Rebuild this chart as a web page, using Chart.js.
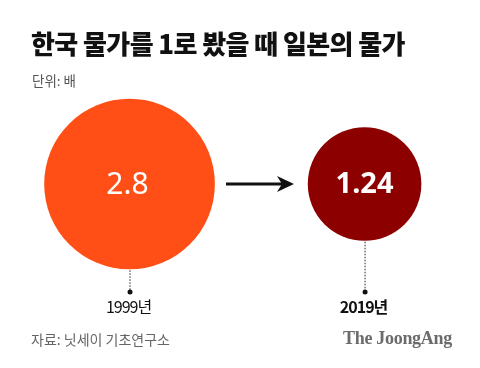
<!DOCTYPE html>
<html>
<head>
<meta charset="utf-8">
<script src="https://cdn.jsdelivr.net/npm/chart.js@4/dist/chart.umd.min.js"></script>
<style>
  html, body { margin: 0; padding: 0; background: #fff; }
  #wrap { position: relative; width: 480px; height: 368px; overflow: hidden; font-family: "Noto Sans CJK KR", "Noto Sans", sans-serif; }
  #chart { position: absolute; left: 0; top: 0; }
  .txt { position: absolute; white-space: nowrap; }
  #title { left: 31px; top: 24px; font-size: 26px; font-weight: 900; color: #111; letter-spacing: -0.6px; }
  #unit { left: 32px; top: 70px; font-size: 13.5px; color: #555; }
  #source { left: 31px; top: 329px; font-size: 14px; color: #666; }
  #brand { left: 343px; top: 328px; font-size: 18px; font-weight: 700; color: #6b6b6b; font-family: "Liberation Serif", "DejaVu Serif", serif; letter-spacing: -0.3px; }
</style>
</head>
<body>
<div id="wrap">
  <canvas id="chart" width="480" height="368"></canvas>
  <div class="txt" id="title">한국 물가를 1로 봤을 때 일본의 물가</div>
  <div class="txt" id="unit">단위: 배</div>
  <div class="txt" id="source">자료: 닛세이 기초연구소</div>
  <div class="txt" id="brand">The JoongAng</div>
</div>
<script>
'use strict';
// data
let years = ['1999년', '2019년'];
let values = [2.8, 1.24];
let colors = ['#ff4f17', '#8c0000'];

// bubble area proportional to value
function radiusOf(v) {
  return 51 * Math.sqrt(v);
}

let points = [];
for (let i = 0; i < values.length; i++) {
  points.push({ x: i, y: 0, r: radiusOf(values[i]) });
}

// labels, dotted leaders and arrow
const extras = {
  id: 'extras',
  afterDatasetsDraw(chart) {
    const ctx = chart.ctx;
    const els = chart.getDatasetMeta(0).data;
    const baseY = 292;
    ctx.save();
    for (let i = 0; i < els.length; i++) {
      const el = els[i];
      const r = el.options.radius;
      // dotted leader
      ctx.strokeStyle = '#222';
      ctx.lineWidth = 1;
      ctx.setLineDash([1.5, 1.5]);
      ctx.beginPath();
      ctx.moveTo(el.x + 0.5, el.y + r + 1);
      ctx.lineTo(el.x + 0.5, baseY);
      ctx.stroke();
      ctx.setLineDash([]);
      ctx.fillStyle = '#111';
      ctx.beginPath();
      ctx.arc(el.x + 0.5, baseY, 2.5, 0, Math.PI * 2);
      ctx.fill();

      // value inside
      ctx.fillStyle = '#fff';
      ctx.textAlign = 'center';
      ctx.textBaseline = 'middle';
      ctx.font = (i === 0 ? '400 30px' : '700 29px') + ' "Noto Sans", sans-serif';
      ctx.fillText(String(values[i]), el.x - (i === 0 ? 2 : 0), el.y + 1);

      // year
      ctx.fillStyle = '#111';
      ctx.font = (i === 0 ? '400' : '700') + ' 16px "Noto Sans CJK KR", sans-serif';
      ctx.textBaseline = 'alphabetic';
      ctx.letterSpacing = '-1px';
      ctx.fillText(years[i], el.x - 1, 313);
      ctx.letterSpacing = '0px';
    }
    // arrow between the two
    if (els.length > 1) {
      const y = els[0].y;
      const x0 = 226, x1 = 294;
      ctx.strokeStyle = '#111';
      ctx.lineWidth = 3;
      ctx.beginPath();
      ctx.moveTo(x0, y);
      ctx.lineTo(x1 - 8, y);
      ctx.stroke();
      ctx.fillStyle = '#111';
      ctx.beginPath();
      ctx.moveTo(x1, y);
      ctx.lineTo(x1 - 17, y - 8);
      ctx.lineTo(x1 - 12, y);
      ctx.lineTo(x1 - 17, y + 8);
      ctx.closePath();
      ctx.fill();
    }
    ctx.restore();
  }
};

const ctx = document.getElementById('chart').getContext('2d');
let myChart = new Chart(ctx, {
  type: 'bubble',
  data: {
    datasets: [
      {
        data: points,
        backgroundColor: colors,
        borderWidth: 0,
        hoverRadius: 0,
        clip: false,
      },
    ],
  },
  options: {
    responsive: false,
    animation: false,
    events: [],
    layout: { padding: 0 },
    plugins: { legend: { display: false }, tooltip: { enabled: false } },
    scales: {
      x: { type: 'linear', display: false, min: -0.188, max: 1.128 },
      y: { type: 'linear', display: false, min: -1, max: 1 },
    },
  },
  plugins: [extras],
});
</script>
</body>
</html>
